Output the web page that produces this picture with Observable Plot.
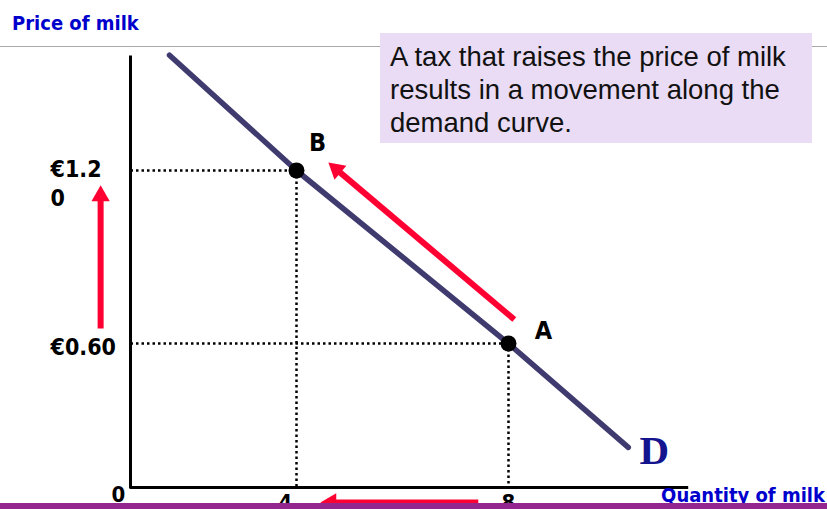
<!DOCTYPE html>
<html>
<head>
<meta charset="utf-8">
<script src="https://cdn.jsdelivr.net/npm/d3@7"></script>
<script src="https://cdn.jsdelivr.net/npm/@observablehq/plot@0.6"></script>
<style>
  body { margin: 0; background: #fff; }
  #wrap { position: relative; width: 827px; height: 509px; overflow: hidden; }
  #chart { position: absolute; left: 0; top: 0; }
  #title { position: absolute; left: 12px; top: 12px; font-family: "DejaVu Sans Condensed", "DejaVu Sans", sans-serif; font-stretch: condensed; font-weight: bold; font-size: 20px; line-height: 22px; color: #0000cc; }
  #rule { position: absolute; left: 0; top: 46px; width: 827px; height: 0; border-top: 1.5px solid #aaaaaa; }
  #box { position: absolute; left: 380px; top: 33px; width: 422px; height: 103px; padding: 7px 0 0 10px; background: #e9dcf4; font-family: "Liberation Sans", Arial, sans-serif; font-size: 27.5px; line-height: 33px; color: #111; white-space: nowrap; }
  #qlabel { position: absolute; right: 2px; top: 484px; font-family: "DejaVu Sans Condensed", "DejaVu Sans", sans-serif; font-stretch: condensed; font-weight: bold; font-size: 20px; line-height: 22px; color: #0000cc; }
  #bar { position: absolute; left: 0; top: 503px; width: 827px; height: 6px; background: #93278f; }
</style>
</head>
<body>
<div id="wrap">
  <div id="chart"></div>
  <div id="rule"></div>
  <div id="title">Price of milk</div>
  <div id="box">A tax that raises the price of milk<br>results in a movement along the<br>demand curve.</div>
  <div id="qlabel">Quantity of milk</div>
  <div id="bar"></div>
</div>
<script>
// ---- data ----
const quantityTicks = [0, 4, 8];
const priceTicks = [0, 0.6, 1.2];
const quantityTickLabels = ["0", "4", "8"];
const priceTickLabels = ["€0.60", "€1.2\n0"];

// demand curve D
const demandQ = [0.94, 4, 8, 10.26];
const demandP = [1.6, 1.2, 0.6, 0.167];

// equilibrium points
const pointNames = ["B", "A"];
const pointQ = [4, 8];
const pointP = [1.2, 0.6];

// axis extents
const quantityMax = 11.4;
const priceMax = 1.592;

// red arrows: tail -> head
const arrowTailQ = [-0.72, 8.11, 7.43];
const arrowTailP = [0.652, 0.683, -0.0625];
const arrowHeadQ = [-0.72, 4.753, 4.65];
const arrowHeadP = [1.112, 1.204, -0.0625];
const arrowAngle = [0, -49.5, -90];

// ---- build ----
const demand = demandQ.map((q, i) => ({q, p: demandP[i]}));
const points = pointNames.map((name, i) => ({name, q: pointQ[i], p: pointP[i]}));
const arrows = arrowTailQ.map((q, i) => ({tq: q, tp: arrowTailP[i], hq: arrowHeadQ[i], hp: arrowHeadP[i], angle: arrowAngle[i]}));
const guides = points.flatMap(d => [
  {q1: 0, p1: d.p, q2: d.q, p2: d.p},
  {q1: d.q, p1: d.p, q2: d.q, p2: 0}
]);

const red = "#ff0033";
const font = "DejaVu Sans Condensed, DejaVu Sans, sans-serif";

const chart = Plot.plot({
  width: 827,
  height: 509,
  x: {type: "linear", domain: quantityTicks, range: [130, 296, 508], axis: null},
  y: {type: "linear", domain: priceTicks, range: [487, 343, 170], axis: null},
  marks: [
    // dotted guides
    Plot.link(guides, {x1: "q1", y1: "p1", x2: "q2", y2: "p2", stroke: "#000", strokeWidth: 2.5, strokeDasharray: "2.5,3"}),
    // axes
    Plot.ruleX([0], {y1: 0, y2: priceMax, stroke: "#000", strokeWidth: 3, strokeLinecap: "square"}),
    Plot.ruleY([0], {x1: 0, x2: quantityMax, stroke: "#000", strokeWidth: 3}),
    // demand curve
    Plot.line(demand, {x: "q", y: "p", stroke: "#3f3b6f", strokeWidth: 5.5}),
    Plot.text([demand[demand.length - 1]], {x: "q", y: "p", text: () => "D", dx: 26, dy: 3, fontFamily: "Liberation Serif, Times New Roman, serif", fontWeight: "bold", fontSize: 41, fill: "#14148f"}),
    // points
    Plot.dot(points, {x: "q", y: "p", r: 8, fill: "#000"}),
    Plot.text([points[0]], {x: "q", y: "p", text: "name", dx: 21, dy: -28, fontFamily: font, fontWeight: "bold", fontSize: 25, fill: "#000"}),
    Plot.text([points[1]], {x: "q", y: "p", text: "name", dx: 35, dy: -13, fontFamily: font, fontWeight: "bold", fontSize: 25, fill: "#000"}),
    // arrows
    Plot.link(arrows, {x1: "tq", y1: "tp", x2: "hq", y2: "hp", stroke: red, strokeWidth: 6}),
    Plot.dot(arrows, {x: "hq", y: "hp", symbol: "triangle", r: 6.8, fill: red, rotate: "angle"}),
    // tick labels
    Plot.text([priceTicks[1]], {x: 0, y: d => d, text: () => priceTickLabels[0], dx: -80, dy: 4, textAnchor: "start", fontFamily: font, fontWeight: "bold", fontSize: 23, fill: "#000"}),
    Plot.text([priceTicks[2]], {x: 0, y: d => d, text: () => priceTickLabels[1], dx: -80, dy: -14, textAnchor: "start", lineAnchor: "top", lineHeight: 1.25, fontFamily: font, fontWeight: "bold", fontSize: 23, fill: "#000"}),
    Plot.text([quantityTicks[0]], {x: d => d, y: 0, text: () => quantityTickLabels[0], dx: -12, dy: 7, fontFamily: font, fontWeight: "bold", fontSize: 22, fill: "#000"}),
    Plot.text([quantityTicks[1]], {x: d => d, y: 0, text: () => quantityTickLabels[1], dx: -11, dy: 15, fontFamily: font, fontWeight: "bold", fontSize: 22, fill: "#000"}),
    Plot.text([quantityTicks[2]], {x: d => d, y: 0, text: () => quantityTickLabels[2], dx: 0, dy: 15, fontFamily: font, fontWeight: "bold", fontSize: 22, fill: "#000"})
  ]
});
document.getElementById("chart").appendChild(chart);
</script>
</body>
</html>
